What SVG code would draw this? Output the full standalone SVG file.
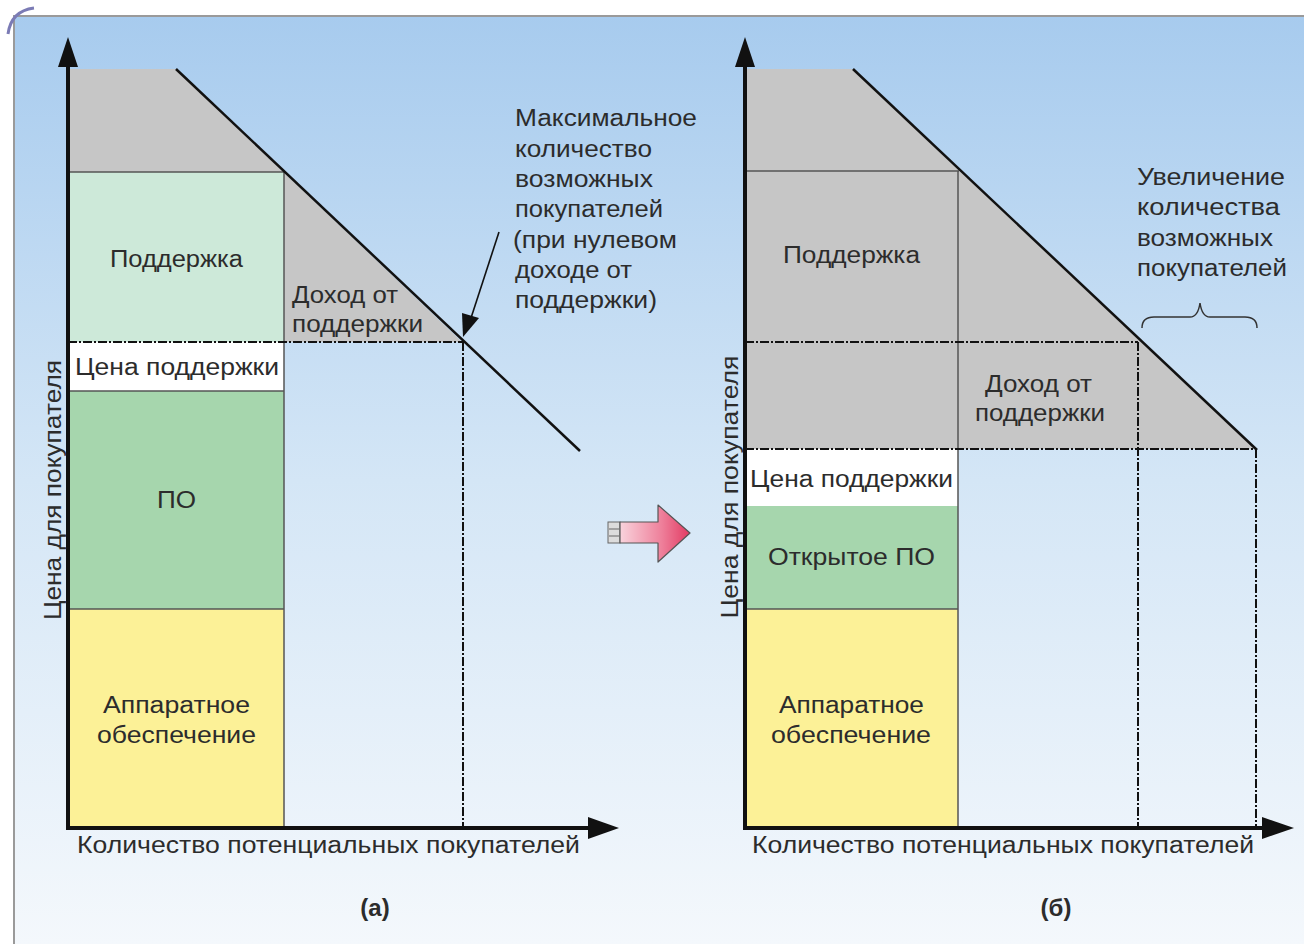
<svg xmlns="http://www.w3.org/2000/svg" width="1304" height="944" viewBox="0 0 1304 944">
  <defs>
    <linearGradient id="bg" x1="0" y1="0" x2="0" y2="1">
      <stop offset="0" stop-color="#a7cbee"/>
      <stop offset="0.5" stop-color="#d4e6f6"/>
      <stop offset="1" stop-color="#f4f8fc"/>
    </linearGradient>
    <linearGradient id="pink" x1="0" y1="0" x2="1" y2="0">
      <stop offset="0" stop-color="#f9d3dc"/>
      <stop offset="0.6" stop-color="#ee7f9a"/>
      <stop offset="1" stop-color="#e23a62"/>
    </linearGradient>
    <style>
      .t { font-family: "Liberation Sans", Arial, sans-serif; font-size: 23px; fill: #2c2c2c; }
      .b { font-weight: bold; font-size: 24px; }
      .edge { stroke: #555; stroke-width: 1.5; fill: none; }
      .dd { stroke: #111; stroke-width: 2; fill: none; stroke-dasharray: 9 2 2 2; }
      .axis { stroke: #111; stroke-width: 4; fill: none; }
      .diag { stroke: #111; stroke-width: 2.5; fill: none; }
      .grey { fill: #c6c6c6; }
    </style>
  </defs>

  <rect x="0" y="0" width="1304" height="944" fill="#ffffff"/>
  <rect x="14" y="16" width="1290" height="928" fill="url(#bg)"/>
  <path d="M14,944 L14,16 L1304,16" stroke="#9a9a9a" stroke-width="2" fill="none"/>
  <path d="M8,34 Q11,11 34,8" stroke="#7b7bb5" stroke-width="3" fill="none"/>

  <!-- Left chart (a) -->
  <g id="left-support">
    <rect x="68" y="172" width="216" height="170" fill="#cde9d9"/>
    <text class="t" x="110" y="267" textLength="133" lengthAdjust="spacingAndGlyphs">Поддержка</text>
  </g>
  <g id="left-grey">
    <polygon class="grey" points="68,69 176,69 462,342 284,342 284,172 68,172"/>
    <text class="t" x="292" y="303" textLength="106" lengthAdjust="spacingAndGlyphs">Доход от</text>
    <text class="t" x="292" y="332" textLength="131" lengthAdjust="spacingAndGlyphs">поддержки</text>
  </g>
  <g id="left-price">
    <rect x="68" y="342" width="216" height="49" fill="#ffffff"/>
    <text class="t" x="75" y="375" textLength="204" lengthAdjust="spacingAndGlyphs">Цена поддержки</text>
  </g>
  <g id="left-software">
    <rect x="68" y="391" width="216" height="218" fill="#a6d6ad"/>
    <text class="t" x="157" y="508" textLength="39" lengthAdjust="spacingAndGlyphs">ПО</text>
  </g>
  <g id="left-hardware">
    <rect x="68" y="609" width="216" height="219" fill="#fcf197"/>
    <text class="t" x="103" y="713" textLength="147" lengthAdjust="spacingAndGlyphs">Аппаратное</text>
    <text class="t" x="97" y="743" textLength="159" lengthAdjust="spacingAndGlyphs">обеспечение</text>
  </g>
  <g id="left-lines">
    <path class="edge" d="M68,172 H284 M284,172 V828 M68,391 H284 M68,609 H284"/>
    <path class="dd" d="M68,342 H463 M463,342 V828"/>
    <path class="diag" d="M176,69 L580,451"/>
  </g>
  <g id="left-axes">
    <path class="axis" d="M68,830 V62 M66,828 H592"/>
    <polygon points="68,37 58,67 78,67" fill="#111"/>
    <polygon points="619,828 588,817 588,839" fill="#111"/>
    <text class="t" x="77" y="853" textLength="503" lengthAdjust="spacingAndGlyphs">Количество потенциальных покупателей</text>
    <text class="t" transform="translate(61,490) rotate(-90)" text-anchor="middle" textLength="260" lengthAdjust="spacingAndGlyphs">Цена для покупателя</text>
    <text class="t b" x="375" y="916" text-anchor="middle">(а)</text>
  </g>
  <g id="left-annotation">
    <text class="t" x="515" y="126" textLength="182" lengthAdjust="spacingAndGlyphs">Максимальное</text>
    <text class="t" x="515" y="157" textLength="137" lengthAdjust="spacingAndGlyphs">количество</text>
    <text class="t" x="515" y="187" textLength="138" lengthAdjust="spacingAndGlyphs">возможных</text>
    <text class="t" x="515" y="217" textLength="148" lengthAdjust="spacingAndGlyphs">покупателей</text>
    <text class="t" x="513" y="248" textLength="164" lengthAdjust="spacingAndGlyphs">(при нулевом</text>
    <text class="t" x="515" y="278" textLength="117" lengthAdjust="spacingAndGlyphs">доходе от</text>
    <text class="t" x="515" y="308" textLength="142" lengthAdjust="spacingAndGlyphs">поддержки)</text>
  </g>

  <!-- Transition arrow -->
  <g id="transition-arrow">
    <rect x="608" y="522" width="12" height="21" fill="#dcdcdc" stroke="#666" stroke-width="1"/>
    <path d="M609,529 H619 M609,536 H619" stroke="#666" stroke-width="1"/>
    <path d="M620,522 H658 V505 L690,533 L658,562 V543 H620 Z" fill="url(#pink)" stroke="#555" stroke-width="1.2" stroke-linejoin="round"/>
  </g>

  <!-- Right chart (б) -->
  <g id="right-grey">
    <polygon class="grey" points="745,69 853,69 1256,449 745,449"/>
    <text class="t" x="783" y="263" textLength="137" lengthAdjust="spacingAndGlyphs">Поддержка</text>
    <text class="t" x="985" y="392" textLength="107" lengthAdjust="spacingAndGlyphs">Доход от</text>
    <text class="t" x="975" y="421" textLength="130" lengthAdjust="spacingAndGlyphs">поддержки</text>
  </g>
  <g id="right-price">
    <rect x="745" y="449" width="213" height="57" fill="#ffffff"/>
    <text class="t" x="750" y="487" textLength="203" lengthAdjust="spacingAndGlyphs">Цена поддержки</text>
  </g>
  <g id="right-software">
    <rect x="745" y="506" width="213" height="103" fill="#a6d6ad"/>
    <text class="t" x="768" y="565" textLength="167" lengthAdjust="spacingAndGlyphs">Открытое ПО</text>
  </g>
  <g id="right-hardware">
    <rect x="745" y="609" width="213" height="219" fill="#fcf197"/>
    <text class="t" x="779" y="713" textLength="145" lengthAdjust="spacingAndGlyphs">Аппаратное</text>
    <text class="t" x="771" y="743" textLength="160" lengthAdjust="spacingAndGlyphs">обеспечение</text>
  </g>
  <g id="right-lines">
    <path class="edge" d="M745,171 H959 M958,171 V828 M745,609 H958"/>
    <path class="dd" d="M745,342 H1138 M745,449 H1256 M1138,342 V828 M1256,449 V828"/>
    <path class="diag" d="M853,69 L1257,450"/>
    <path d="M1142,328 Q1142,317 1154,317 L1190,317 Q1198,317 1200,303 Q1202,317 1210,317 L1245,317 Q1257,317 1257,328" stroke="#333" stroke-width="1.5" fill="none"/>
  </g>
  <g id="right-axes">
    <path class="axis" d="M745,830 V62 M743,828 H1265"/>
    <polygon points="745,37 735,67 755,67" fill="#111"/>
    <polygon points="1294,828 1262,817 1262,839" fill="#111"/>
    <text class="t" x="752" y="853" textLength="502" lengthAdjust="spacingAndGlyphs">Количество потенциальных покупателей</text>
    <text class="t" transform="translate(738,487) rotate(-90)" text-anchor="middle" textLength="263" lengthAdjust="spacingAndGlyphs">Цена для покупателя</text>
    <text class="t b" x="1056" y="916" text-anchor="middle">(б)</text>
  </g>
  <g id="right-annotation">
    <text class="t" x="1137" y="185" textLength="148" lengthAdjust="spacingAndGlyphs">Увеличение</text>
    <text class="t" x="1137" y="215" textLength="143" lengthAdjust="spacingAndGlyphs">количества</text>
    <text class="t" x="1137" y="246" textLength="136" lengthAdjust="spacingAndGlyphs">возможных</text>
    <text class="t" x="1137" y="276" textLength="150" lengthAdjust="spacingAndGlyphs">покупателей</text>
  </g>

  <!-- Connector: annotation pointer -->
  <g id="connectors">
    <line x1="499" y1="232" x2="471" y2="318" stroke="#111" stroke-width="1.6"/>
    <polygon points="463,337 462,313 479,318" fill="#111"/>
  </g>
</svg>
